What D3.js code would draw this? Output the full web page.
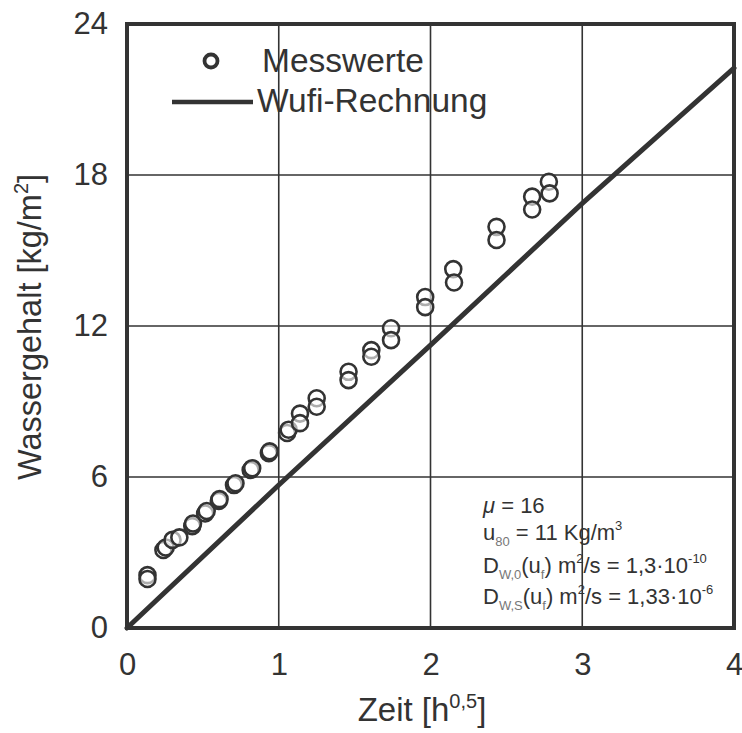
<!DOCTYPE html>
<html>
<head>
<meta charset="utf-8">
<script src="https://cdn.jsdelivr.net/npm/d3@7"></script>
<style>
  html, body { margin: 0; padding: 0; background: #fff; }
  svg { display: block; font-family: "Liberation Sans", Arial, sans-serif; }
</style>
</head>
<body>
<svg id="chart" width="742" height="733"></svg>
<script>
// Measured water content (two samples per time step) against root time
const measTime = [0.135, 0.135, 0.24, 0.255, 0.30, 0.345, 0.43, 0.435, 0.515, 0.525,
                  0.605, 0.61, 0.705, 0.715, 0.815, 0.825, 0.935, 0.94, 1.055, 1.065,
                  1.14, 1.14, 1.25, 1.25, 1.46, 1.46, 1.61, 1.61, 1.74, 1.74,
                  1.965, 1.965, 2.15, 2.155, 2.435, 2.435, 2.67, 2.67, 2.78, 2.785];
const measWater = [2.1, 1.95, 3.1, 3.2, 3.5, 3.6, 4.05, 4.15, 4.55, 4.65,
                   5.05, 5.12, 5.68, 5.75, 6.28, 6.35, 6.95, 7.02, 7.75, 7.88,
                   8.52, 8.14, 9.13, 8.79, 10.18, 9.85, 11.04, 10.78, 11.91, 11.44,
                   13.15, 12.75, 14.26, 13.73, 15.94, 15.42, 17.14, 16.63, 17.73, 17.27];

// WUFI simulation curve
const calcTime  = [0, 1, 2, 3, 4];
const calcWater = [0, 5.68, 11.24, 16.87, 22.25];

const xTicks = [0, 1, 2, 3, 4];
const yTicks = [0, 6, 12, 18, 24];

const ink = "#333333";
const svg = d3.select("#chart");
const plotL = 127, plotR = 734, plotT = 24, plotB = 628;

const x = d3.scaleLinear().domain([0, 4]).range([plotL, plotR]);
const y = d3.scaleLinear().domain([0, 24]).range([plotB, plotT]);

// grid lines
svg.append("g")
  .selectAll("line")
  .data(xTicks.slice(1, -1))
  .join("line")
  .attr("x1", d => x(d)).attr("x2", d => x(d))
  .attr("y1", plotT).attr("y2", plotB)
  .attr("stroke", ink).attr("stroke-width", 1.6);
svg.append("g")
  .selectAll("line")
  .data(yTicks.slice(1, -1))
  .join("line")
  .attr("x1", plotL).attr("x2", plotR)
  .attr("y1", d => y(d)).attr("y2", d => y(d))
  .attr("stroke", ink).attr("stroke-width", 1.6);

// axes (labels only)
const xAxis = svg.append("g")
  .attr("transform", `translate(0,${plotB})`)
  .call(d3.axisBottom(x).tickValues(xTicks).tickFormat(d3.format("d")).tickSize(0).tickPadding(25));
const yAxis = svg.append("g")
  .attr("transform", `translate(${plotL},0)`)
  .call(d3.axisLeft(y).tickValues(yTicks).tickFormat(d3.format("d")).tickSize(0).tickPadding(19));
[xAxis, yAxis].forEach(g => {
  g.select(".domain").remove();
  g.selectAll("text")
    .attr("fill", ink)
    .style("font-size", "31px")
    .style("font-family", "'Liberation Sans', Arial, sans-serif");
});

// calculated line
const line = d3.line().x(d => x(d[0])).y(d => y(d[1]));
svg.append("path")
  .datum(calcTime.map((t, i) => [t, calcWater[i]]))
  .attr("d", line)
  .attr("fill", "none")
  .attr("stroke", ink)
  .attr("stroke-width", 5)
  .attr("stroke-linecap", "round");

// measured points
svg.append("g")
  .selectAll("circle")
  .data(measTime.map((t, i) => [t, measWater[i]]))
  .join("circle")
  .attr("cx", d => x(d[0]))
  .attr("cy", d => y(d[1]))
  .attr("r", 8)
  .attr("fill", "#fff")
  .attr("fill-opacity", 0.6)
  .attr("stroke", ink)
  .attr("stroke-width", 2.6);

// frame
svg.append("rect")
  .attr("x", plotL).attr("y", plotT)
  .attr("width", plotR - plotL).attr("height", plotB - plotT)
  .attr("fill", "none")
  .attr("stroke", ink)
  .attr("stroke-width", 4);

// legend
const legend = svg.append("g");
legend.append("circle")
  .attr("cx", 211).attr("cy", 61).attr("r", 6.5)
  .attr("fill", "#fff").attr("stroke", ink).attr("stroke-width", 3.8);
legend.append("text")
  .attr("x", 262).attr("y", 72)
  .attr("fill", ink).style("font-size", "33.5px")
  .text("Messwerte");
legend.append("line")
  .attr("x1", 172).attr("x2", 253).attr("y1", 102).attr("y2", 102)
  .attr("stroke", ink).attr("stroke-width", 4.5);
legend.append("text")
  .attr("x", 257).attr("y", 112)
  .attr("fill", ink).style("font-size", "33.5px")
  .text("Wufi-Rechnung");

// axis titles
const xt = svg.append("text")
  .attr("x", 422).attr("y", 721)
  .attr("text-anchor", "middle")
  .attr("fill", ink).style("font-size", "33px");
xt.append("tspan").text("Zeit [h");
xt.append("tspan").attr("dy", -13).style("font-size", "20px").text("0,5");
xt.append("tspan").attr("dy", 13).text("]");

const yt = svg.append("text")
  .attr("transform", "translate(41,327) rotate(-90)")
  .attr("text-anchor", "middle")
  .attr("fill", ink).style("font-size", "32.5px");
yt.append("tspan").text("Wassergehalt [kg/m");
yt.append("tspan").attr("dy", -13).style("font-size", "20px").text("2");
yt.append("tspan").attr("dy", 13).text("]");

// material parameters
const note = svg.append("g").attr("fill", ink).style("font-size", "22px");
const sub = (t, s) => t.append("tspan").attr("dy", 6).style("font-size", "13px").attr("fill", "#777").text(s);
const sup = (t, s) => t.append("tspan").attr("dy", -10).style("font-size", "13px").text(s);

let t1 = note.append("text").attr("x", 483).attr("y", 513);
t1.append("tspan").style("font-style", "italic").text("\u03BC");
t1.append("tspan").text(" = 16");

let t2 = note.append("text").attr("x", 483).attr("y", 540);
t2.append("tspan").text("u");
sub(t2, "80");
t2.append("tspan").attr("dy", -6).text(" = 11 Kg/m");
sup(t2, "3");

let t3 = note.append("text").attr("x", 483).attr("y", 573);
t3.append("tspan").text("D");
sub(t3, "W,0");
t3.append("tspan").attr("dy", -6).text("(u");
sub(t3, "f");
t3.append("tspan").attr("dy", -6).text(") m");
sup(t3, "2");
t3.append("tspan").attr("dy", 10).text("/s = 1,3\u00B710");
sup(t3, "-10");

let t4 = note.append("text").attr("x", 483).attr("y", 604);
t4.append("tspan").text("D");
sub(t4, "W,S");
t4.append("tspan").attr("dy", -6).text("(u");
sub(t4, "f");
t4.append("tspan").attr("dy", -6).text(") m");
sup(t4, "2");
t4.append("tspan").attr("dy", 10).text("/s = 1,33\u00B710");
sup(t4, "-6");
</script>
</body>
</html>
